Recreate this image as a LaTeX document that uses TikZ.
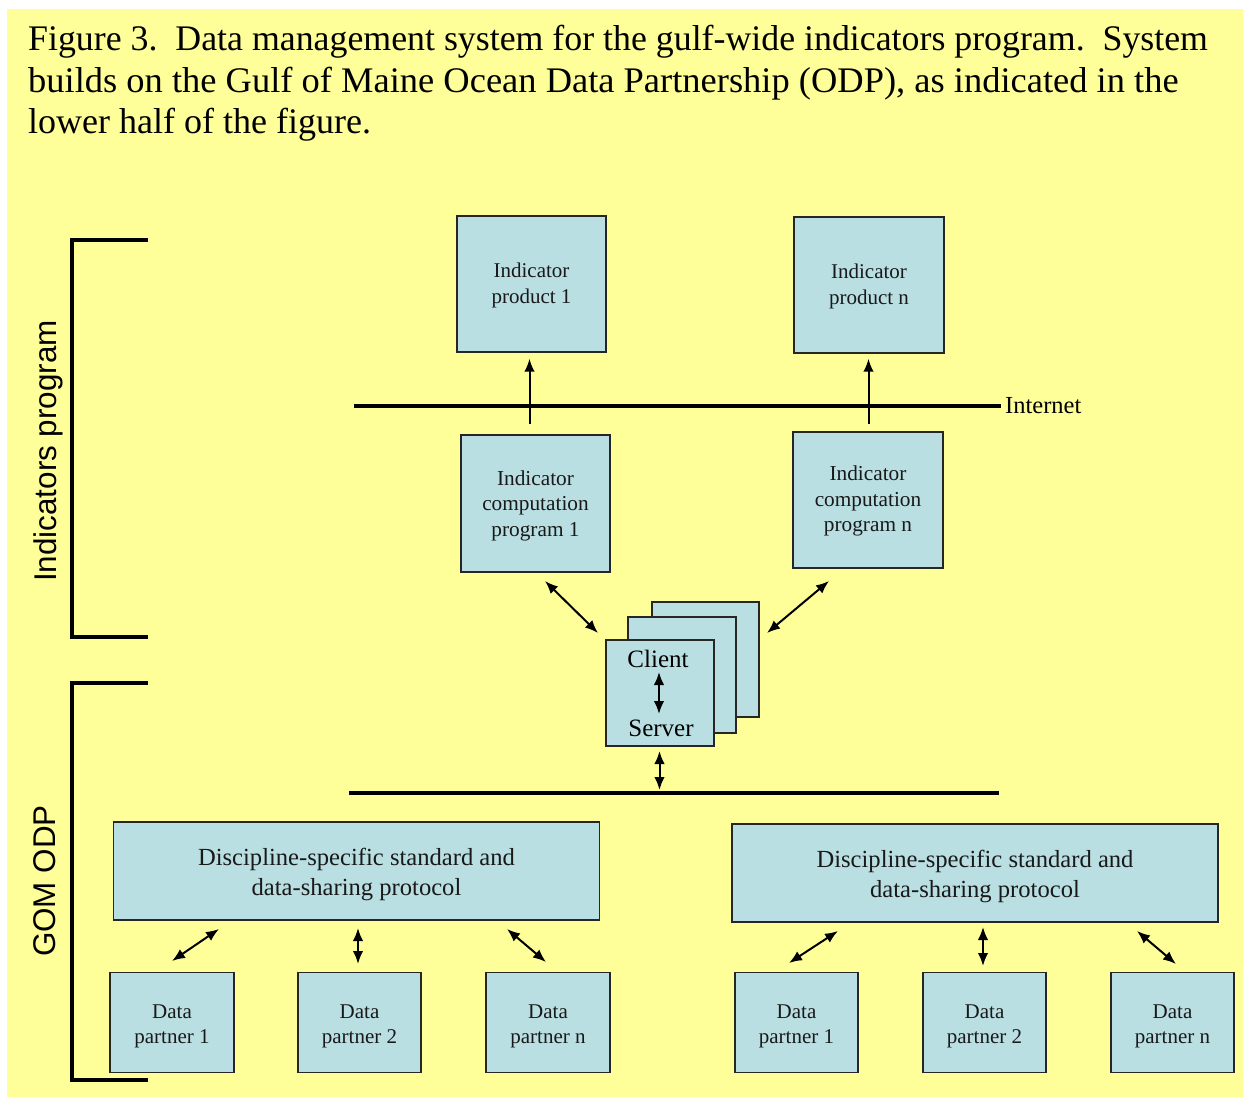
\documentclass[tikz,border=0pt]{standalone}
\usepackage{fontspec}
\setmainfont{Liberation Serif}
\newfontfamily\arialfont{Liberation Sans}
\usetikzlibrary{arrows.meta}
\definecolor{bgyellow}{RGB}{255,255,153}
\definecolor{boxblue}{RGB}{185,223,227}
\newcommand{\boxlines}[2]{\raisebox{#1}[\height][\depth]{\begin{tabular}{@{}c@{}}#2\end{tabular}}}
\begin{document}
\begin{tikzpicture}[x=1pt,y=-1pt,
  box/.style={draw=black!85, fill=boxblue, line width=1.3pt, inner sep=0pt, text=black!90},
  fprod/.style={font=\fontsize{21}{26}\selectfont},
  fcomp/.style={font=\fontsize{21.3}{25.5}\selectfont},
  fproto/.style={font=\fontsize{24.6}{30}\selectfont},
  fdata/.style={font=\fontsize{21}{25}\selectfont},
  bar/.style={line width=3.6pt, line cap=butt, line join=miter},
  arr/.style={line width=2pt, {Latex[length=13pt,width=10.5pt]}-{Latex[length=13pt,width=10.5pt]}},
  uarr/.style={line width=2pt, -{Latex[length=13pt,width=10.5pt]}},
  captext/.style={anchor=base west, inner sep=0pt, font=\fontsize{36}{41}\selectfont},
  side/.style={rotate=90, inner sep=0pt, font=\arialfont\fontsize{31.4}{31}\selectfont}
]
\useasboundingbox (0,0) rectangle (1243,1097);
\fill[bgyellow] (7,9) rectangle (1243,1097);

% caption
\node[captext] (cap1) at (28,51) {\scalebox{0.995}[1]{Figure 3.\ \ Data management system for the gulf-wide indicators program.\ \ System}};
\node[captext] (cap2) at (28,92.5) {\scalebox{1.013}[1]{builds on the Gulf of Maine Ocean Data Partnership (ODP), as indicated in the}};
\node[captext] (cap3) at (28,134) {lower half of the figure.};

% brackets and side labels
\draw[bar] (148,240) -- (72,240) -- (72,637) -- (148,637);
\draw[bar] (148,683) -- (72,683) -- (72,1080) -- (148,1080);
\node[side] (lab1) at (48,451) {Indicators program};
\node[side] (lab2) at (45,881) {GOM ODP};

% indicator products
\node[box, fprod, minimum width=149pt, minimum height=136pt] (p1) at (531.5,284) {\boxlines{-1pt}{Indicator\\product 1}};
\node[box, fprod, minimum width=150pt, minimum height=136pt] (pn) at (869,285) {\boxlines{-1pt}{Indicator\\product n}};

% internet line
\coordinate (netL) at (354,406);
\coordinate (netR) at (1001,406);
\draw[bar] (netL) -- (netR);
\node[anchor=west, inner sep=0pt, font=\fontsize{24.5}{24}\selectfont] (net) at (1005,406) {Internet};

% computation programs
\node[box, fcomp, minimum width=149pt, minimum height=137pt] (c1) at (535.5,503.5) {\boxlines{-2pt}{Indicator\\computation\\program 1}};
\node[box, fcomp, minimum width=150pt, minimum height=136pt] (cn) at (868,500) {\boxlines{-1pt}{Indicator\\computation\\program n}};

% up arrows through internet line
\coordinate (u1) at (529.5,424);
\coordinate (un) at (868.5,424);
\draw[uarr, shorten >=6pt] (u1) -- (u1 |- p1.south);
\draw[uarr, shorten >=5pt] (un) -- (un |- pn.south);

% client/server stack
\node[box, minimum width=107pt, minimum height=115pt] (s3) at (705.5,659.5) {};
\node[box, minimum width=108pt, minimum height=116pt] (s2) at (682,675) {};
\node[box, minimum width=108pt, minimum height=106pt] (s1) at (660,693) {};
\node[inner sep=0pt, font=\fontsize{25}{25}\selectfont] (cl) at (658,659) {Client};
\node[inner sep=0pt, font=\fontsize{25}{25}\selectfont] (sv) at (661,728) {Server};
\coordinate (csA) at (659,672);
\coordinate (csB) at (659,714);
\draw[arr] (csA) -- (csB);

% diagonal arrows
\coordinate (d1a) at (545,581);
\coordinate (d1b) at (598,633);
\coordinate (dna) at (829,581);
\coordinate (dnb) at (767,633);
\draw[arr] (d1a) -- (d1b);
\draw[arr] (dna) -- (dnb);

% lower line
\coordinate (lowL) at (349,793);
\coordinate (lowR) at (999,793);
\draw[bar] (lowL) -- (lowR);
\coordinate (vA) at (659.5,751);
\coordinate (vB) at (659.5,790);
\draw[arr] (vA) -- (vB);

% protocol boxes
\node[box, fproto, minimum width=486pt, minimum height=98pt] (prL) at (356.5,871) {\boxlines{-3pt}{Discipline-specific standard and\\data-sharing protocol}};
\node[box, fproto, minimum width=486pt, minimum height=98pt] (prR) at (975,873) {\boxlines{-3pt}{Discipline-specific standard and\\data-sharing protocol}};

% data partners left
\node[box, fdata, minimum width=124pt, minimum height=100pt] (dL1) at (172,1022.5) {\boxlines{-3pt}{Data\\partner 1}};
\node[box, fdata, minimum width=123pt, minimum height=100pt] (dL2) at (359.5,1022.5) {\boxlines{-3pt}{Data\\partner 2}};
\node[box, fdata, minimum width=124pt, minimum height=100pt] (dLn) at (548,1022.5) {\boxlines{-3pt}{Data\\partner n}};
% data partners right
\node[box, fdata, minimum width=123pt, minimum height=100pt] (dR1) at (796.5,1022.5) {\boxlines{-3pt}{Data\\partner 1}};
\node[box, fdata, minimum width=123pt, minimum height=100pt] (dR2) at (984.5,1022.5) {\boxlines{-3pt}{Data\\partner 2}};
\node[box, fdata, minimum width=123pt, minimum height=100pt] (dRn) at (1172.5,1022.5) {\boxlines{-3pt}{Data\\partner n}};

% left group arrows
\coordinate (a1a) at (172,961); \coordinate (a1b) at (219,929);
\coordinate (a2a) at (358,928); \coordinate (a2b) at (358,964);
\coordinate (a3a) at (507,929); \coordinate (a3b) at (546,962);
\draw[arr] (a1a) -- (a1b);
\draw[arr] (a2a) -- (a2b);
\draw[arr] (a3a) -- (a3b);
% right group arrows
\coordinate (b1a) at (789,963); \coordinate (b1b) at (838,931);
\coordinate (b2a) at (983,927); \coordinate (b2b) at (983,966);
\coordinate (b3a) at (1137,931); \coordinate (b3b) at (1176,964);
\draw[arr] (b1a) -- (b1b);
\draw[arr] (b2a) -- (b2b);
\draw[arr] (b3a) -- (b3b);
\end{tikzpicture}
\end{document}
